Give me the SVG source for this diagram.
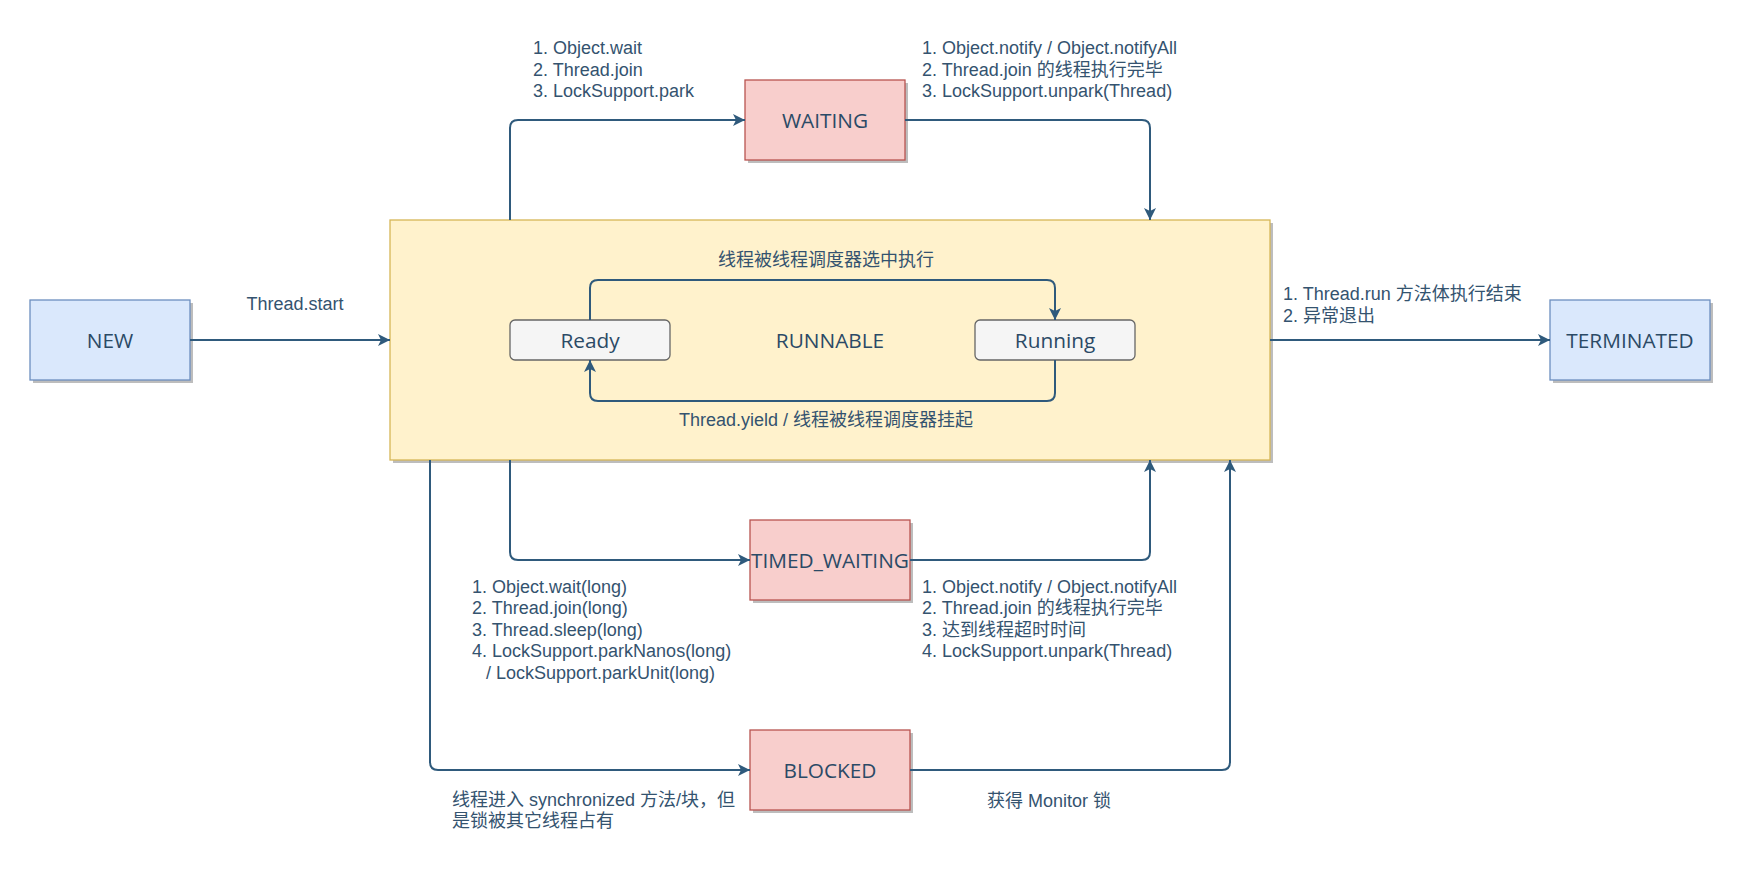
<svg xmlns="http://www.w3.org/2000/svg" width="1743" height="870" viewBox="0 0 1743 870">
  <style>
    .shadow { fill: #bdbdbd; }
    .blue { fill: #dae8fc; stroke: #6c8ebf; stroke-width: 1.3; }
    .red { fill: #f8cecc; stroke: #b85450; stroke-width: 1.3; }
    .yellow { fill: #fff2cc; stroke: #d6b656; stroke-width: 1.3; }
    .grey { fill: #f5f5f5; stroke: #666666; stroke-width: 1.3; }
    .node-text { font-family: "Open Sans", "Noto Sans", sans-serif; font-size: 20.8px; fill: #2b4a66; text-anchor: middle; dominant-baseline: central; }
    .label { font-family: "Liberation Sans", Arial, "Noto Sans CJK SC", sans-serif; font-size: 18px; fill: #34536f; }
    .edge { fill: none; stroke: #2f5a7c; stroke-width: 2; marker-end: url(#arrow); }
  </style>
  <defs>
    <marker id="arrow" markerUnits="userSpaceOnUse" markerWidth="14" markerHeight="14" viewBox="0 0 14 14" refX="12" refY="6" orient="auto">
      <path d="M0,0 L12,6 L0,12 L3,6 Z" fill="#2f5a7c"/>
    </marker>
  </defs>

  <!-- RUNNABLE container -->
  <g id="runnable">
    <rect class="shadow" x="393" y="223" width="880" height="240"/>
    <rect class="yellow" x="390" y="220" width="880" height="240"/>
    <text class="node-text" x="830" y="340">RUNNABLE</text>
  </g>

  <g id="ready">
    <rect class="grey" x="510" y="320" width="160" height="40" rx="5"/>
    <text class="node-text" x="590" y="340">Ready</text>
  </g>

  <g id="running">
    <rect class="grey" x="975" y="320" width="160" height="40" rx="5"/>
    <text class="node-text" x="1055" y="340">Running</text>
  </g>

  <g id="new">
    <rect class="shadow" x="33" y="303" width="160" height="80"/>
    <rect class="blue" x="30" y="300" width="160" height="80"/>
    <text class="node-text" x="110" y="340">NEW</text>
  </g>

  <g id="terminated">
    <rect class="shadow" x="1553" y="303" width="160" height="80"/>
    <rect class="blue" x="1550" y="300" width="160" height="80"/>
    <text class="node-text" x="1630" y="340">TERMINATED</text>
  </g>

  <g id="waiting">
    <rect class="shadow" x="748" y="83" width="160" height="80"/>
    <rect class="red" x="745" y="80" width="160" height="80"/>
    <text class="node-text" x="825" y="120">WAITING</text>
  </g>

  <g id="timed-waiting">
    <rect class="shadow" x="753" y="523" width="160" height="80"/>
    <rect class="red" x="750" y="520" width="160" height="80"/>
    <text class="node-text" x="830" y="560">TIMED_WAITING</text>
  </g>

  <g id="blocked">
    <rect class="shadow" x="753" y="733" width="160" height="80"/>
    <rect class="red" x="750" y="730" width="160" height="80"/>
    <text class="node-text" x="830" y="770">BLOCKED</text>
  </g>

  <!-- transitions -->
  <g id="connectors">
    <path class="edge" d="M190,340 H390"/>
    <path class="edge" d="M510,220 V128 Q510,120 518,120 H745"/>
    <path class="edge" d="M905,120 H1142 Q1150,120 1150,128 V220"/>
    <path class="edge" d="M1270,340 H1550"/>
    <path class="edge" d="M510,460 V552 Q510,560 518,560 H750"/>
    <path class="edge" d="M910,560 H1142 Q1150,560 1150,552 V460"/>
    <path class="edge" d="M430,460 V762 Q430,770 438,770 H750"/>
    <path class="edge" d="M910,770 H1222 Q1230,770 1230,762 V460"/>
    <path class="edge" d="M590,320 V288 Q590,280 598,280 H1047 Q1055,280 1055,288 V320"/>
    <path class="edge" d="M1055,360 V393 Q1055,401 1047,401 H598 Q590,401 590,393 V360"/>
  </g>

  <!-- transition labels -->
  <g id="labels">
    <text class="label" x="295" y="310" text-anchor="middle">Thread.start</text>

    <text class="label" x="533" y="54">1. Object.wait</text>
    <text class="label" x="533" y="75.5">2. Thread.join</text>
    <text class="label" x="533" y="97">3. LockSupport.park</text>

    <text class="label" x="922" y="54">1. Object.notify / Object.notifyAll</text>
    <text class="label" x="922" y="75.5">2. Thread.join 的线程执行完毕</text>
    <text class="label" x="922" y="97">3. LockSupport.unpark(Thread)</text>

    <text class="label" x="826" y="266" text-anchor="middle">线程被线程调度器选中执行</text>
    <text class="label" x="826" y="426" text-anchor="middle">Thread.yield / 线程被线程调度器挂起</text>

    <text class="label" x="1283" y="300">1. Thread.run 方法体执行结束</text>
    <text class="label" x="1283" y="321.5">2. 异常退出</text>

    <text class="label" x="472" y="592.5">1. Object.wait(long)</text>
    <text class="label" x="472" y="614">2. Thread.join(long)</text>
    <text class="label" x="472" y="635.5">3. Thread.sleep(long)</text>
    <text class="label" x="472" y="657">4. LockSupport.parkNanos(long)</text>
    <text class="label" x="486" y="678.5">/ LockSupport.parkUnit(long)</text>

    <text class="label" x="922" y="592.5">1. Object.notify / Object.notifyAll</text>
    <text class="label" x="922" y="614">2. Thread.join 的线程执行完毕</text>
    <text class="label" x="922" y="635.5">3. 达到线程超时时间</text>
    <text class="label" x="922" y="657">4. LockSupport.unpark(Thread)</text>

    <text class="label" x="452" y="805.5">线程进入 synchronized 方法/块，但</text>
    <text class="label" x="452" y="827">是锁被其它线程占有</text>

    <text class="label" x="987" y="806.5">获得 Monitor 锁</text>
  </g>
</svg>
